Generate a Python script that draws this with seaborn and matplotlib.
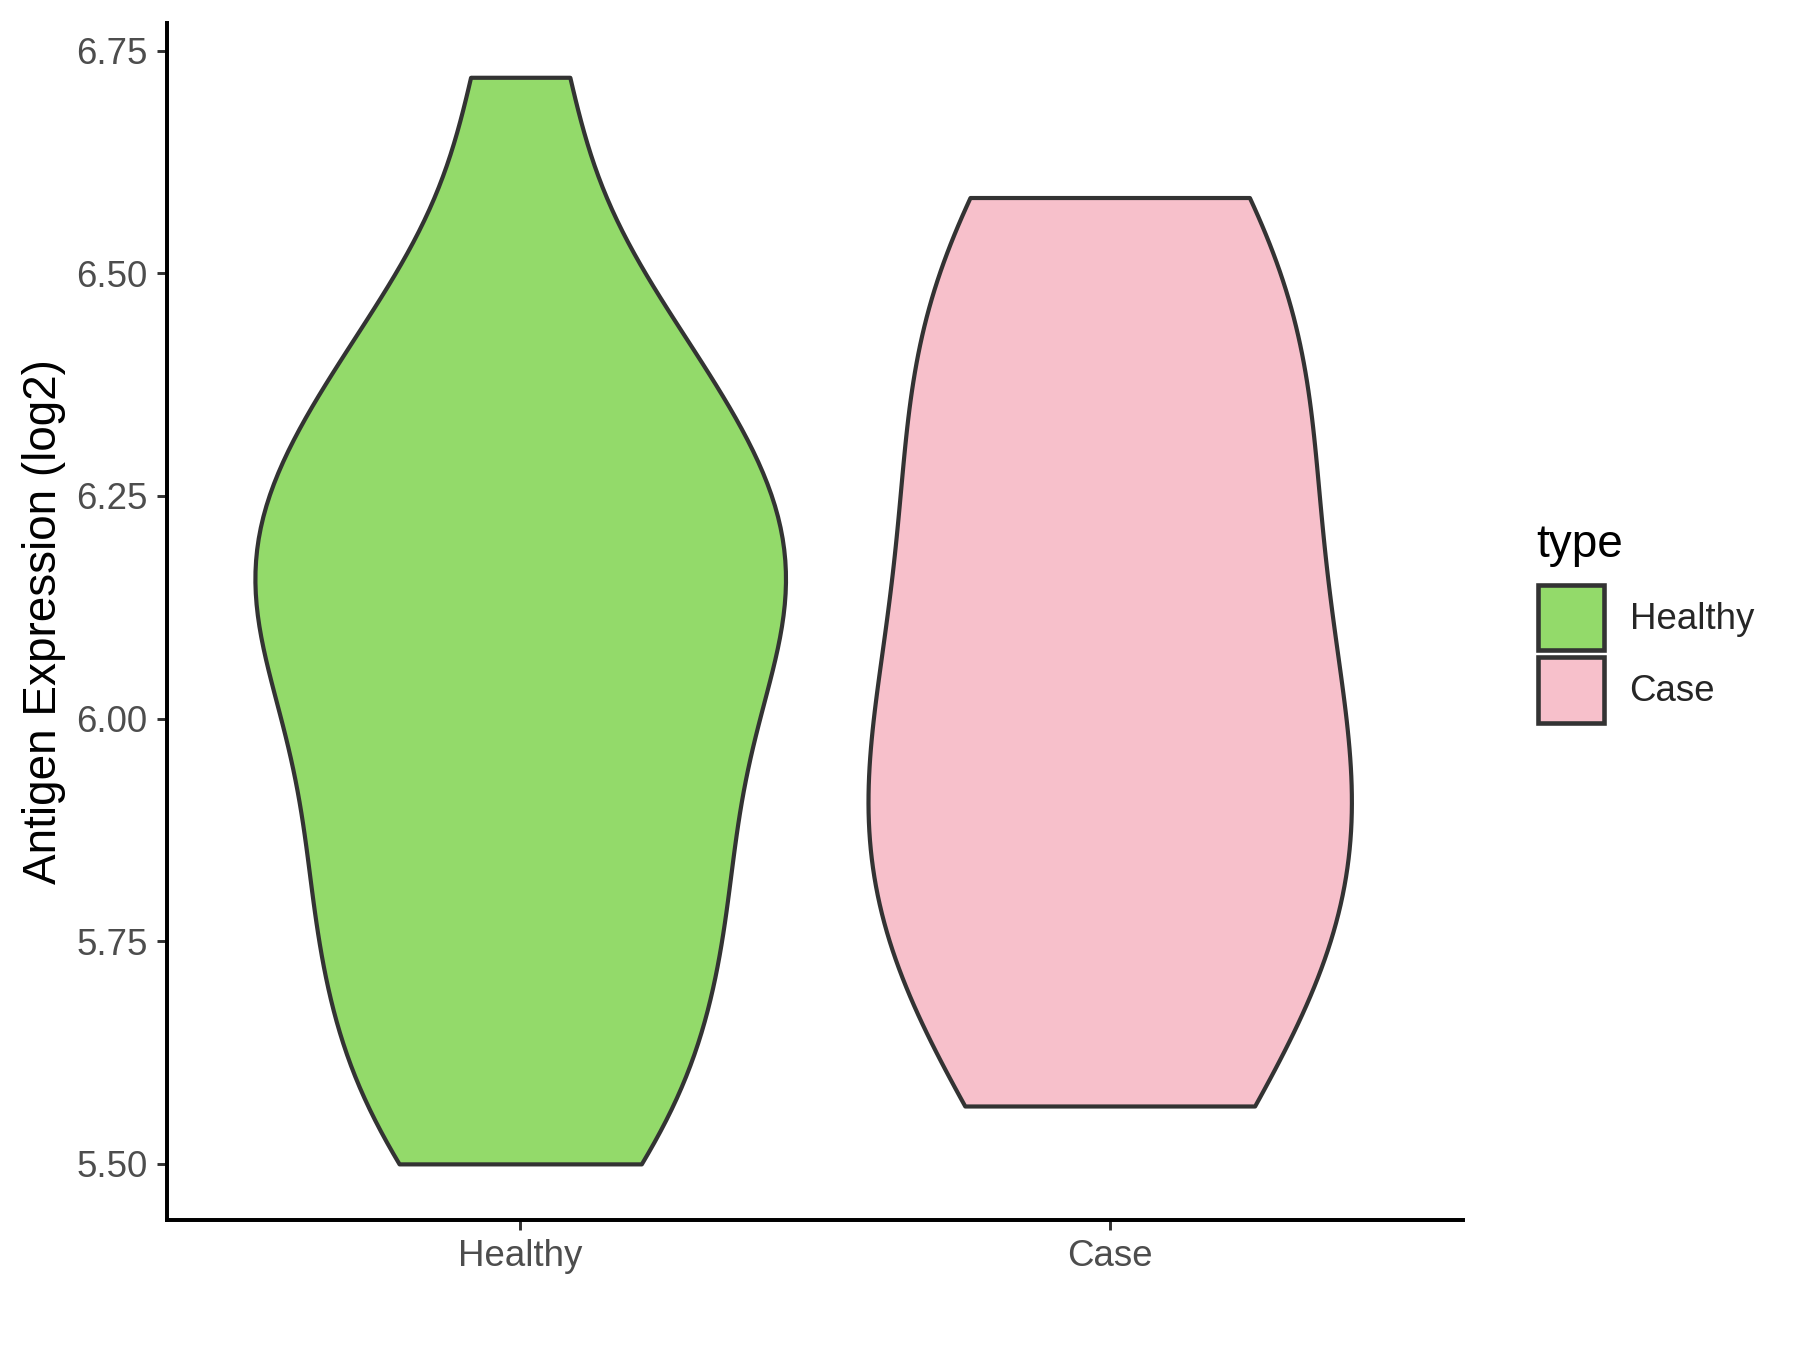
import numpy as np
import pandas as pd
import matplotlib.pyplot as plt
import seaborn as sns
from matplotlib.patches import Patch

# values (log2 antigen expression)
groups = ["Healthy", "Case"]
colors = ["#93DA6A", "#F7C0CB"]
healthy = [5.50, 5.53, 5.61, 5.68, 5.74, 5.79, 5.84, 5.90, 5.96, 6.02, 6.07,
           6.11, 6.15, 6.18, 6.22, 6.26, 6.31, 6.36, 6.43, 6.50, 6.72]
case = [5.565, 5.74, 5.85, 5.96, 6.11, 6.28, 6.43, 6.585]
yticks = [5.50, 5.75, 6.00, 6.25, 6.50, 6.75]

sns.set_style("ticks")
plt.rcParams['font.family'] = ['Liberation Sans', 'DejaVu Sans']

fig = plt.figure(figsize=(12, 9), dpi=150)
ax = fig.add_axes([0.0925, 0.0963, 0.7205, 0.8867])

# one call per group so each gets its own bandwidth
for g, vals, col, bw, w in zip(groups, [healthy, case], colors, [0.42, 0.55], [0.9, 0.82]):
    df = pd.DataFrame({"type": [g] * len(vals), "expr": vals})
    sns.violinplot(data=df, x="type", y="expr", order=groups, color=col,
                   linecolor="#333333", linewidth=2.0, cut=0, inner=None,
                   bw_method=bw, width=w, saturation=1, ax=ax)

ax.set_xlim(-0.6, 1.6)
ax.set_ylim(5.437, 6.781)
ax.set_yticks(yticks)
ax.set_yticklabels([f"{t:.2f}" for t in yticks])
ax.set_xlabel("")
ax.set_ylabel("Antigen Expression (log2)", fontsize=22, color="black", labelpad=5)

for s in ["top", "right"]:
    ax.spines[s].set_visible(False)
for s in ["left", "bottom"]:
    ax.spines[s].set_color("black")
    ax.spines[s].set_linewidth(1.9)
ax.tick_params(axis="both", length=5, width=1.4, color="#333333",
               labelcolor="#4D4D4D", labelsize=17.6, pad=4, bottom=True, left=True)

# legend title drawn on its own to get the ggplot-like gap above the keys
fig.text(0.8533, 0.5874, "type", fontsize=22, color="black", ha="left", va="baseline")
handles = [Patch(facecolor=c, edgecolor="#333333", linewidth=2.2) for c in colors]
fig.legend(handles, groups, loc="center left",
           bbox_to_anchor=(0.844, 0.5156), frameon=False, fontsize=17.6,
           handlelength=1.82, handleheight=2.37,
           labelspacing=0.19, handletextpad=0.69, borderpad=0)

fig.savefig("out.png", dpi=150)
